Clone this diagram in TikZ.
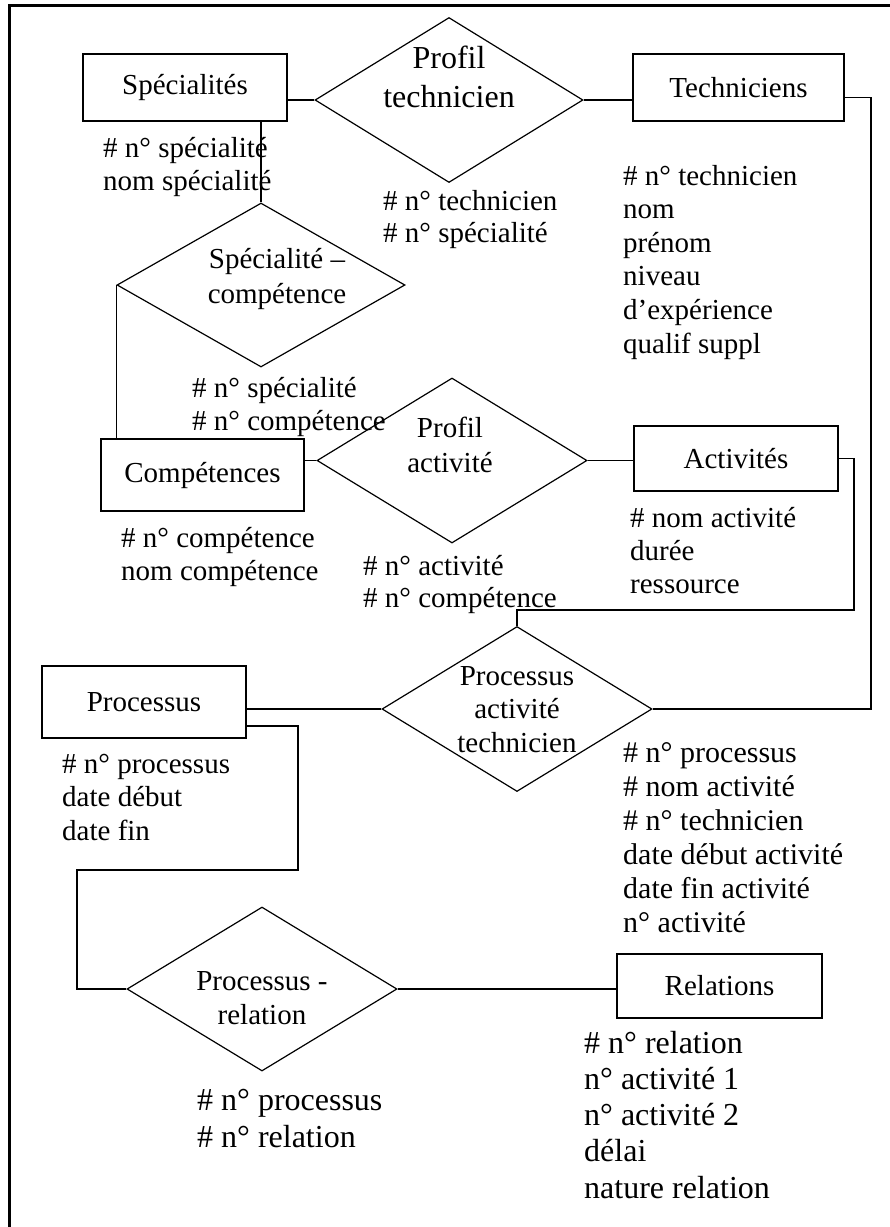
\documentclass[tikz,border=0pt]{standalone}
\usepackage{fontspec}
\setmainfont{Liberation Serif}
\usetikzlibrary{shapes.geometric}
\newcommand{\fsA}{\fontsize{29}{33.5}\selectfont}
\newcommand{\fsB}{\fontsize{32}{37}\selectfont}

\begin{document}
\begin{tikzpicture}[
    x=1pt, y=-1pt,
    entity/.style={draw, line width=1.3pt, inner sep=0pt, font=\fsA},
    assoc/.style={draw, diamond, line width=1.2pt, inner sep=0pt},
    assoc text/.style={align=center, inner sep=0pt, anchor=base, font=\fsA},
    attr/.style={align=left, inner sep=0pt, anchor=base west, font=\fsA},
    line style/.style={line width=1.2pt}
]
    \useasboundingbox (0,0) rectangle (890,1227);

    % Frame (only top and left edges are visible)
    \draw[line width=3pt] (9,1227) -- (9,5) -- (890,5);

    % Entities
    \node[entity, minimum width=204pt, minimum height=67pt] (spec) at (185,87.5) {Spécialités};
    \node[entity, minimum width=211pt, minimum height=67pt] (tech) at (738.5,87.5) {Techniciens};
    \node[entity, minimum width=203pt, minimum height=72pt] (comp) at (202.5,475) {Compétences};
    \node[entity, minimum width=204pt, minimum height=65pt] (act) at (736,458.5) {Activités};
    \node[entity, minimum width=204pt, minimum height=72pt] (proc) at (144,702) {Processus};
    \node[entity, minimum width=205pt, minimum height=64pt] (rel) at (719.5,986) {Relations};

    % Associations
    \node[assoc, minimum width=268pt, minimum height=165pt] (ptech) at (449,100) {};
    \node[assoc, minimum width=288pt, minimum height=164pt] (spcomp) at (261,285) {};
    \node[assoc, minimum width=270pt, minimum height=165pt] (pact) at (452,460.5) {};
    \node[assoc, minimum width=270pt, minimum height=165pt] (pat) at (517,709) {};
    \node[assoc, minimum width=270pt, minimum height=164pt] (prel) at (262,989) {};

    % (base = last line)
    \node[assoc text, font=\fontsize{32}{39}\selectfont] (ptech-t) at (449,107) {Profil\\technicien};
    \node[assoc text, font=\fontsize{29}{35}\selectfont] (spcomp-t) at (277,303) {Spécialité –\\compétence};
    \node[assoc text, font=\fontsize{29}{35}\selectfont] (pact-t) at (450,472) {Profil\\activité};
    \node[assoc text] (pat-t) at (517,752) {Processus\\activité\\technicien};
    \node[assoc text, font=\fontsize{29}{34}\selectfont] (prel-t) at (262,1024) {Processus -\\relation};

    % Attributes (base = last line)
    \node[attr, font=\fontsize{29}{33}\selectfont] (spec-a) at (103,190) {\# n° spécialité\\nom spécialité};
    \node[attr, font=\fontsize{29}{32}\selectfont] (ptech-a) at (383,242) {\# n° technicien\\\# n° spécialité};
    \node[attr, font=\fontsize{29}{33.6}\selectfont] (tech-a) at (623,353) {\# n° technicien\\nom\\prénom\\niveau\\d’expérience\\qualif suppl};
    \node[attr, font=\fontsize{29}{33}\selectfont] (spcomp-a) at (192,430) {\# n° spécialité\\\# n° compétence};
    \node[attr, font=\fontsize{29}{33}\selectfont] (comp-a) at (121,580) {\# n° compétence\\nom compétence};
    \node[attr, font=\fontsize{29}{32}\selectfont] (pact-a) at (363,607) {\# n° activité\\\# n° compétence};
    \node[attr, font=\fontsize{29}{33}\selectfont] (act-a) at (630,593) {\# nom activité\\durée\\ressource};
    \node[attr] (proc-a) at (62,840) {\# n° processus\\date début\\date fin};
    \node[attr, font=\fontsize{30}{34}\selectfont] (pat-a) at (623,932) {\# n° processus\\\# nom activité\\\# n° technicien\\date début activité\\date fin activité\\n° activité};
    \node[attr, font=\fsB] (prel-a) at (197,1147) {\# n° processus\\\# n° relation};
    \node[attr, font=\fontsize{32}{36.2}\selectfont] (rel-a) at (584,1198) {\# n° relation\\n° activité 1\\n° activité 2\\délai\\nature relation};

    % Links
    \coordinate (tk) at (871,98);
    \coordinate (ak) at (854,610);
    \coordinate (pk1) at (298,870);
    \coordinate (pk2) at (77,870);

    \draw[line style] (ptech.west) -- (ptech.west -| spec.east);
    \draw[line style] (ptech.east) -- (ptech.east -| tech.west);
    \draw[line style] ([yshift=-10pt]tech.east) -| (tk) |- (pat.east);
    \draw[line style] (spcomp.north) -- (spcomp.north |- spec.south);
    \draw[line style] (spcomp.west) -- (spcomp.west |- comp.north);
    \draw[line style] (pact.west) -- (pact.west -| comp.east);
    \draw[line style] (pact.east) -- (pact.east -| act.west);
    \draw[line style] (act.east) -| (ak) -| (pat.north);
    \draw[line style] (pat.west) -- (pat.west -| proc.east);
    \draw[line style] ([yshift=-24pt]proc.east) -| (pk1) -- (pk2) |- (prel.west);
    \draw[line style] (prel.east) -- (prel.east -| rel.west);

\end{tikzpicture}
\end{document}
